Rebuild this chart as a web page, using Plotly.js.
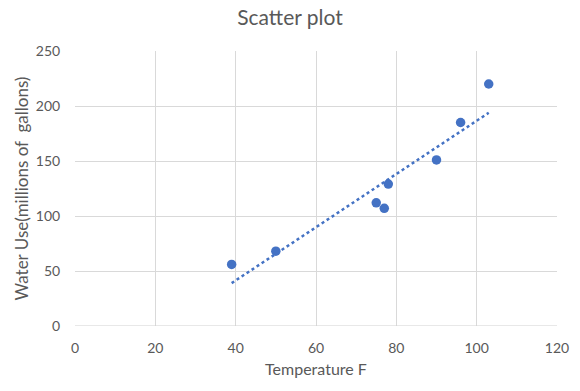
<!DOCTYPE html>
<html>
<head>
<meta charset="utf-8">
<script src="https://cdn.plot.ly/plotly-3.0.1.min.js"></script>
<style>html,body{margin:0;padding:0;background:#fff;}#chart{width:580px;height:391px;}</style>
</head>
<body>
<div id="chart"></div>
<script>
const temperature = [39, 50, 75, 77, 78, 90, 96, 103];
const waterUse = [56, 68, 112, 107, 129, 151, 185, 220];
const xTicks = [0, 20, 40, 60, 80, 100, 120];
const yTicks = [0, 50, 100, 150, 200, 250];

// least-squares linear trendline
const n = temperature.length;
const mx = temperature.reduce((a, b) => a + b, 0) / n;
const my = waterUse.reduce((a, b) => a + b, 0) / n;
let sxy = 0, sxx = 0;
for (let i = 0; i < n; i++) { sxy += (temperature[i] - mx) * (waterUse[i] - my); sxx += (temperature[i] - mx) ** 2; }
const slope = sxy / sxx, intercept = my - slope * mx;
const xMin = Math.min(...temperature), xMax = Math.max(...temperature);
const trendX = [xMin, xMax];
const trendY = trendX.map(x => intercept + slope * x);

const font = "Lato, 'Open Sans', sans-serif";
const grey = '#595959';

Plotly.newPlot('chart', [
  { x: trendX, y: trendY, mode: 'lines', type: 'scatter', line: { color: '#4472C4', width: 2.5, dash: 'dot' }, hoverinfo: 'skip' },
  { x: temperature, y: waterUse, mode: 'markers', type: 'scatter', marker: { color: '#4472C4', size: 9.5 } }
], {
  width: 580, height: 391,
  margin: { l: 75, r: 23, t: 51, b: 65 },
  paper_bgcolor: '#fff', plot_bgcolor: '#fff',
  showlegend: false,
  font: { family: font, color: grey, size: 13 },
  title: { text: 'Scatter plot', font: { family: font, size: 21, color: grey }, x: 0.5, xanchor: 'center', y: 0.955, yanchor: 'middle' },
  xaxis: {
    range: [0, 120], tickvals: xTicks, ticktext: xTicks.map(String),
    showgrid: true, gridcolor: '#d9d9d9', gridwidth: 1, zeroline: false,
    showline: false, ticks: 'outside', ticklen: 9, tickcolor: 'rgba(0,0,0,0)',
    tickfont: { family: font, size: 14, color: grey },
    title: { text: 'Temperature F', font: { family: font, size: 16, color: grey }, standoff: 9 }
  },
  yaxis: {
    range: [0, 250], tickvals: yTicks, ticktext: yTicks.map(String),
    showgrid: true, gridcolor: '#d9d9d9', gridwidth: 1, zeroline: false,
    showline: false, ticks: 'outside', ticklen: 11, tickcolor: 'rgba(0,0,0,0)',
    tickfont: { family: font, size: 14, color: grey },
    title: { text: 'Water Use(millions of  gallons)', font: { family: font, size: 17, color: grey }, standoff: 2 }
  },
  shapes: [
    { type: 'line', xref: 'paper', yref: 'y', x0: 0, x1: 1, y0: 0, y1: 0, line: { color: '#d0d0d0', width: 1 } }
  ]
}, { displayModeBar: false, staticPlot: true });
</script>
</body>
</html>
